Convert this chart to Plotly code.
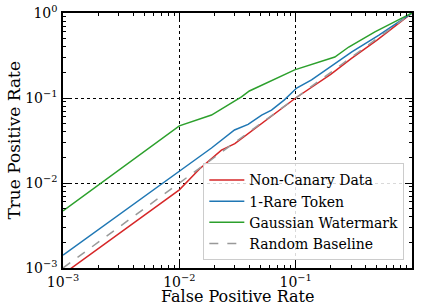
import plotly.graph_objects as go

fpr_red = [0.00085, 0.01, 0.0149, 0.023, 0.03, 0.05, 0.1, 0.2, 0.3, 0.5, 1.0]
tpr_red = [0.00072, 0.0083, 0.0146, 0.0244, 0.029, 0.049, 0.1, 0.19, 0.29, 0.48, 1.0]

fpr_blue = [0.001, 0.0189, 0.0298, 0.039, 0.051, 0.062, 0.080, 0.102, 0.137, 0.192, 0.304, 0.52, 1.0]
tpr_blue = [0.00142, 0.0258, 0.042, 0.049, 0.063, 0.072, 0.095, 0.131, 0.163, 0.225, 0.348, 0.55, 1.0]

fpr_green = [0.001, 0.01, 0.0189, 0.0342, 0.040, 0.098, 0.217, 0.286, 0.48, 1.0]
tpr_green = [0.0047, 0.047, 0.063, 0.103, 0.121, 0.214, 0.303, 0.398, 0.60, 1.0]

fpr_base = [0.001, 1.0]
tpr_base = [0.001, 1.0]

tick_vals = [0.001, 0.01, 0.1, 1.0]
tick_text = ["10<sup>−3</sup>", "10<sup>−2</sup>", "10<sup>−1</sup>", "10<sup>0</sup>"]

names = ["Non-Canary Data", "1-Rare Token", "Gaussian Watermark", "Random Baseline"]
colors = ["#d62728", "#1f77b4", "#2ca02c", "#999999"]

fig = go.Figure()
fig.add_trace(go.Scatter(x=fpr_red, y=tpr_red, mode="lines", name=names[0],
                         line=dict(color=colors[0], width=1.5)))
fig.add_trace(go.Scatter(x=fpr_blue, y=tpr_blue, mode="lines", name=names[1],
                         line=dict(color=colors[1], width=1.5)))
fig.add_trace(go.Scatter(x=fpr_green, y=tpr_green, mode="lines", name=names[2],
                         line=dict(color=colors[2], width=1.5)))
fig.add_trace(go.Scatter(x=fpr_base, y=tpr_base, mode="lines", name=names[3],
                         line=dict(color=colors[3], width=1.5, dash="dash")))

font_family = "DejaVu Serif"
axis_common = dict(
    type="log", tickmode="array", tickvals=tick_vals, ticktext=tick_text,
    showline=True, linecolor="black", linewidth=1.5, automargin=False,
    mirror="ticks", ticks="inside", ticklen=6, tickwidth=1, tickcolor="black",
    showgrid=True, gridcolor="black", griddash="dot", gridwidth=0.7,
    zeroline=False, tickfont=dict(family=font_family, size=14, color="black"),
    minor=dict(ticks="inside", ticklen=3, tickcolor="black", showgrid=False,
               tickmode="array",
               tickvals=[m * 10 ** e for e in (-3, -2, -1) for m in range(2, 10)]),
)
fig.update_xaxes(range=[-3, 0], ticklabelstandoff=0, **axis_common)
fig.update_yaxes(range=[-3, 0], ticklabelstandoff=1, **axis_common)

title_font = dict(family=font_family, size=16, color="black")
fig.add_annotation(text="False Positive Rate", xref="paper", yref="paper",
                   x=0.5, y=-0.066, xanchor="center", yanchor="top",
                   showarrow=False, font=title_font)
fig.add_annotation(text="True Positive Rate", xref="paper", yref="paper",
                   x=-0.143, y=0.5, xanchor="center", yanchor="middle", textangle=-90,
                   showarrow=False, font=dict(family=font_family, size=17, color="black"))

fig.update_layout(
    width=424, height=305, margin=dict(l=63, r=12, t=13, b=37, autoexpand=False),
    plot_bgcolor="white", paper_bgcolor="white", showlegend=True,
    legend=dict(x=0.978, y=0.03, xanchor="right", yanchor="bottom",
                bgcolor="rgba(255,255,255,0.85)", bordercolor="#cccccc", borderwidth=1,
                font=dict(family=font_family, size=14, color="black"),
                tracegroupgap=0, itemwidth=35),
)
fig.write_html("out.html", config=dict(displayModeBar=False),
               post_script="document.body.style.margin='0px';document.body.style.overflow='hidden';")
